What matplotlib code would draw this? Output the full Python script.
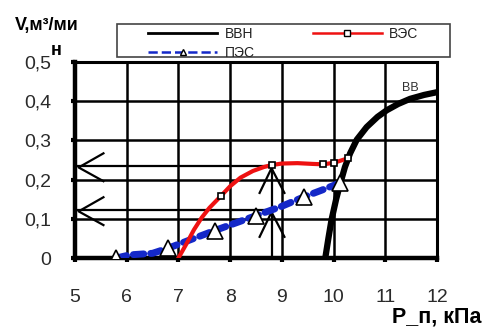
import matplotlib
matplotlib.use("Agg")
import matplotlib.pyplot as plt
from matplotlib.lines import Line2D
from matplotlib.patches import Rectangle

plt.rcParams['font.family'] = ['Liberation Sans', 'DejaVu Sans']

# data
x_ticks = [5, 6, 7, 8, 9, 10, 11, 12]
y_ticks = [0, 0.1, 0.2, 0.3, 0.4, 0.5]
y_tick_labels = ["0", "0,1", "0,2", "0,3", "0,4", "0,5"]

# ВВН (black curve)
vvn_p = [9.84, 9.9, 9.96, 10.05, 10.13, 10.22, 10.32, 10.45, 10.64, 10.85,
         11.03, 11.25, 11.48, 11.75, 12.0]
vvn_v = [0.0, 0.05, 0.097, 0.15, 0.19, 0.232, 0.267, 0.302, 0.334, 0.36,
         0.377, 0.393, 0.406, 0.416, 0.423]

# ВЭС (red, squares at some points)
ves_p = [7.0, 7.15, 7.3, 7.45, 7.6, 7.82, 8.0, 8.2, 8.44, 8.65, 8.8, 9.0,
         9.3, 9.6, 9.8, 10.01, 10.27]
ves_v = [0.0, 0.035, 0.072, 0.103, 0.128, 0.158, 0.183, 0.205, 0.222, 0.232,
         0.237, 0.241, 0.242, 0.24, 0.239, 0.243, 0.254]
ves_marks = [5, 10, 14, 15, 16]

# ПЭС (blue dashed, triangles)
pes_p = [5.8, 6.06, 6.5, 6.8, 7.2, 7.7, 8.1, 8.5, 9.0, 9.43, 9.77, 10.13]
pes_v = [0.0, 0.008, 0.012, 0.025, 0.045, 0.07, 0.089, 0.108, 0.132, 0.156, 0.173, 0.192]
pes_marks = [0, 3, 5, 7, 9, 11]

# arrow guides
guide_levels = [0.234, 0.122]
guide_x = 8.8
guide_top = 0.237

fig = plt.figure(figsize=(4.82, 3.33), dpi=100)
ax = fig.add_axes([0.1556, 0.2252, 0.751, 0.5886])

ax.set_xlim(5, 12)
ax.set_ylim(0, 0.5)
ax.set_xticks(x_ticks)
ax.set_yticks(y_ticks)
ax.set_yticklabels(y_tick_labels)
ax.grid(True, color="black", linewidth=1.8)
ax.set_axisbelow(True)
ax.tick_params(direction="out", length=3, width=3, color="black",
               labelsize=14, labelcolor="#2a2a2a")
ax.tick_params(axis="x", pad=19)
ax.tick_params(axis="y", pad=14)
for s in ["top", "right"]:
    ax.spines[s].set_linewidth(2.2)
for s in ["left", "bottom"]:
    ax.spines[s].set_linewidth(3.2)

# guide lines with arrow heads
for lvl in guide_levels:
    ax.plot([5, guide_x], [lvl, lvl], color="black", lw=1.6, zorder=2)
    ax.plot([5.55, 5.07, 5.55], [lvl + 0.033, lvl - 0.003, lvl - 0.038],
            color="black", lw=1.6, zorder=2, clip_on=False)
    ax.plot([guide_x - 0.23, guide_x, guide_x + 0.25],
            [lvl - 0.068, lvl - 0.005, lvl - 0.068], color="black", lw=1.6, zorder=2)
ax.plot([guide_x, guide_x], [0, guide_top], color="black", lw=1.6, zorder=2)

ax.plot(vvn_p, vvn_v, color="black", lw=4.5, zorder=3, solid_capstyle="butt")
ax.plot(pes_p, pes_v, color="#1428c8", lw=5, ls=(0, (1.5, 1.0)), zorder=4,
        dash_capstyle="round",
        marker="^", markevery=pes_marks, markersize=12, markerfacecolor="white",
        markeredgecolor="black", markeredgewidth=1.2)
ax.plot(ves_p, ves_v, color="#ee1111", lw=3, zorder=5,
        marker="s", markevery=ves_marks, markersize=4.5, markerfacecolor="white",
        markeredgecolor="black", markeredgewidth=1.2)

ax.text(11.48, 0.418, "ВВ", fontsize=9, color="#333333", ha="center", va="bottom")

fig.text(15 / 482, 1 - 30 / 333, "V,м³/ми", fontsize=13, fontweight="bold",
         ha="left", va="baseline")
fig.text(51 / 482, 1 - 55 / 333, "н", fontsize=13, fontweight="bold",
         ha="left", va="baseline")
fig.text(481 / 482, 1 - 322 / 333, "Р_п, кПа", fontsize=15.5, fontweight="bold",
         ha="right", va="baseline")

# legend: frame drawn separately, entries placed inside it
fig.patches.append(Rectangle((117 / 482, 1 - 57 / 333), 333 / 482, 33 / 333,
                             transform=fig.transFigure, facecolor="white",
                             edgecolor="#444444", linewidth=1.2, zorder=1))
handles = [
    Line2D([], [], color="black", lw=2),
    Line2D([], [], color="#1428c8", lw=1.8, ls="--", marker="^", markersize=5,
           markerfacecolor="white", markeredgecolor="black"),
    Line2D([], [], color="#ee1111", lw=1.8, marker="s", markersize=4,
           markerfacecolor="white", markeredgecolor="black"),
]
leg = fig.legend(handles, ["ВВН", "ПЭС", "ВЭС"], ncol=2, loc="upper left",
                 bbox_to_anchor=(148 / 482, 1 - 27 / 333),
                 fontsize=10, handlelength=5, handletextpad=0.5,
                 borderpad=0, labelspacing=0.35, columnspacing=4.2,
                 frameon=False, borderaxespad=0)
for t in leg.get_texts():
    t.set_color("#222222")

fig.savefig("out.png", dpi=100)
